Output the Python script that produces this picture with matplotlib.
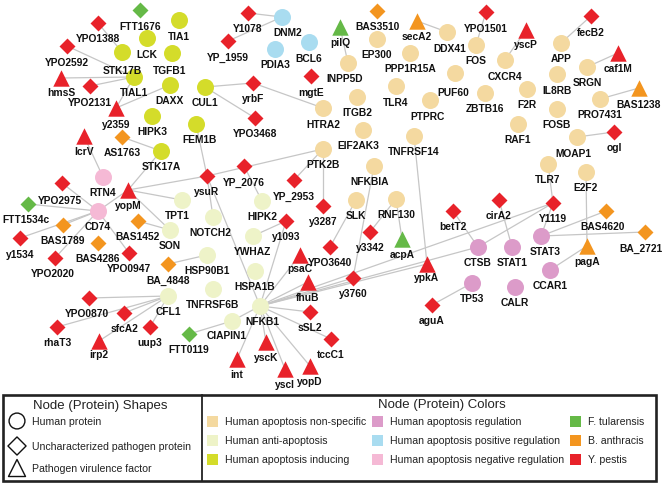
import matplotlib
matplotlib.use("Agg")
import matplotlib.pyplot as plt
from matplotlib.patches import Rectangle

# node positions (pixel layout of the network drawing), grouped by legend colour
human_nonspecific = {
    "EP300": (377, 40), "DDX41": (447, 33), "INPP5D": (348, 64), "PPP1R15A": (410, 54),
    "TLR4": (396, 87), "PTPRC": (430, 101), "ITGB2": (357, 98), "HTRA2": (323, 109),
    "EIF2AK3": (363, 131), "TNFRSF14": (414, 137), "PTK2B": (323, 150), "NFKBIA": (374, 167),
    "SLK": (356, 201), "RNF130": (396, 200), "FOS": (476, 46), "CXCR4": (505, 61),
    "PUF60": (455, 74), "ZBTB16": (485, 94), "F2R": (527, 90), "RAF1": (518, 125),
    "APP": (561, 44), "IL8RB": (557, 75), "SRGN": (587, 68), "PRO7431": (600, 100),
    "FOSB": (557, 110), "MOAP1": (577, 138), "TLR7": (548, 165), "E2F2": (586, 173),
}
human_anti = {
    "TPT1": (182, 201), "NOTCH2": (213, 218), "SON": (170, 231), "HSP90B1": (207, 256),
    "HIPK2": (262, 202), "YWHAZ": (253, 237), "HSPA1B": (255, 272), "TNFRSF6B": (213, 290),
    "CFL1": (168, 297), "NFKB1": (260, 307), "CIAPIN1": (232, 322),
}
human_inducing = {
    "TIA1": (179, 21), "LCK": (147, 39), "STK17B": (122, 53), "TGFB1": (172, 54),
    "TIAL1": (134, 78), "DAXX": (170, 86), "CUL1": (205, 88), "HIPK3": (152, 117),
    "FEM1B": (196, 125), "STK17A": (161, 152),
}
human_regulation = {
    "STAT3": (541, 237), "CTSB": (478, 248), "STAT1": (512, 248), "CCAR1": (550, 271),
    "TP53": (472, 284), "CALR": (515, 288),
}
human_positive = {"DNM2": (282, 18), "PDIA3": (275, 50), "BCL6": (309, 43)}
human_negative = {"RTN4": (103, 178), "CD74": (98, 212)}

f_tularensis = {
    "FTT1676": (140, 11), "pilQ": (340, 28), "FTT1534c": (28, 205), "FTT0119": (189, 335),
    "acpA": (402, 240),
}
b_anthracis = {
    "BAS3510": (377, 12), "secA2": (417, 22), "BAS1238": (639, 89), "AS1763": (122, 138),
    "BAS1789": (63, 226), "BAS1452": (138, 222), "BAS4286": (98, 244), "BA_4848": (168, 265),
    "BAS4620": (606, 212), "BA_2721": (645, 233), "pagA": (587, 247),
}
y_pestis = {
    "YPO1388": (98, 24), "YPO2592": (67, 47), "hmsS": (61, 79), "YPO2131": (90, 87),
    "y2359": (116, 109), "lcrV": (84, 137), "Y1078": (248, 14), "YP_1959": (228, 42),
    "yrbF": (253, 84), "mgtE": (311, 77), "YPO3468": (255, 119), "YPO1501": (486, 13),
    "yscP": (526, 31), "fecB2": (591, 17), "caf1M": (618, 54), "ogl": (614, 133),
    "ysuR": (207, 177), "yopM": (128, 191), "YP_2076": (244, 167), "YP_2953": (294, 181),
    "y3287": (323, 207), "y1093": (286, 222), "y3342": (370, 233), "YPO3640": (330, 248),
    "psaC": (300, 256), "fhuB": (308, 283), "y3760": (353, 279), "ypkA": (427, 265),
    "YPO2975": (62, 184), "y1534": (20, 239), "YPO2020": (55, 259), "YPO0947": (129, 254),
    "YPO0870": (89, 299), "sfcA2": (124, 314), "rhaT3": (57, 328), "uup3": (150, 328),
    "irp2": (99, 342), "int": (237, 360), "yscK": (266, 343), "yscI": (285, 370),
    "yopD": (310, 367), "sSL2": (310, 313), "tccC1": (331, 340), "aguA": (432, 306),
    "betT2": (453, 212), "cirA2": (499, 201), "Y1119": (553, 204),
}
virulence_factors = [
    "pilQ", "acpA", "secA2", "BAS1238", "pagA", "hmsS", "y2359", "lcrV", "yscP", "caf1M",
    "yopM", "psaC", "fhuB", "ypkA", "irp2", "int", "yscK", "yscI", "yopD",
]

edges = [
    ("YPO1388", "STK17B"), ("YPO2592", "TIAL1"), ("hmsS", "TIAL1"), ("YPO2131", "TIAL1"),
    ("y2359", "TIAL1"), ("y2359", "DAXX"), ("lcrV", "RTN4"), ("AS1763", "STK17A"),
    ("yopM", "STK17A"), ("Y1078", "DNM2"), ("YP_1959", "DNM2"), ("CUL1", "yrbF"),
    ("CUL1", "YPO3468"), ("yrbF", "HTRA2"), ("FEM1B", "ysuR"), ("ysuR", "PTK2B"),
    ("yopM", "ysuR"), ("ysuR", "NOTCH2"), ("ysuR", "NFKB1"), ("YP_2076", "HIPK2"),
    ("YP_2953", "PTK2B"), ("y3287", "PTK2B"), ("NFKBIA", "y3760"), ("SLK", "YPO3640"),
    ("RNF130", "y3342"), ("RNF130", "acpA"), ("TNFRSF14", "ypkA"), ("y1093", "YWHAZ"),
    ("y1093", "NFKB1"), ("psaC", "NFKB1"), ("fhuB", "NFKB1"), ("NFKB1", "Y1119"),
    ("NFKB1", "ypkA"), ("NFKB1", "y3760"), ("NFKB1", "CTSB"), ("NFKB1", "sSL2"),
    ("NFKB1", "tccC1"), ("NFKB1", "yopD"), ("NFKB1", "yscI"), ("NFKB1", "yscK"),
    ("NFKB1", "int"), ("NFKB1", "CIAPIN1"), ("CIAPIN1", "FTT0119"), ("CFL1", "YPO0870"),
    ("CFL1", "rhaT3"), ("CFL1", "sfcA2"), ("CFL1", "irp2"), ("CFL1", "uup3"),
    ("CD74", "YPO2975"), ("CD74", "FTT1534c"), ("CD74", "BAS1789"), ("CD74", "y1534"),
    ("CD74", "YPO2020"), ("CD74", "YPO0947"), ("CD74", "yopM"), ("yopM", "TPT1"),
    ("yopM", "SON"), ("BAS1452", "SON"), ("BA_4848", "HSP90B1"), ("YPO1501", "FOS"),
    ("yscP", "CXCR4"), ("fecB2", "APP"), ("caf1M", "SRGN"), ("BAS1238", "PRO7431"),
    ("ogl", "MOAP1"), ("pilQ", "INPP5D"), ("secA2", "DDX41"), ("TLR7", "Y1119"),
    ("E2F2", "pagA"), ("pagA", "CCAR1"), ("STAT3", "BAS4620"), ("STAT3", "BA_2721"),
    ("Y1119", "STAT3"), ("Y1119", "CTSB"), ("cirA2", "STAT1"), ("betT2", "CTSB"),
    ("aguA", "TP53"),
]

color_legend = [
    ("Human apoptosis non-specific", "#f4d9a0"), ("Human anti-apoptosis", "#eef3c8"),
    ("Human apoptosis inducing", "#d4dc2a"), ("Human apoptosis regulation", "#dc9bc9"),
    ("Human apoptosis positive regulation", "#a9dcf0"), ("Human apoptosis negative regulation", "#f5b9d5"),
    ("F. tularensis", "#65b947"), ("B. anthracis", "#f3951f"), ("Y. pestis", "#e8222a"),
]
shape_legend = ["Human protein", "Uncharacterized pathogen protein", "Pathogen virulence factor"]

# small label shifts where the label is not centred under its node
label_nudge = {
    "DNM2": (6, 0), "FEM1B": (4, 0), "EIF2AK3": (-5, 0), "TPT1": (-5, 0), "CIAPIN1": (-5, -1),
    "MOAP1": (-4, 1), "TGFB1": (-2, 2), "PUF60": (-2, 3), "STAT3": (4, 0), "BA_2721": (-4, 0),
    "NOTCH2": (-3, 0), "INPP5D": (-3, 0), "BAS4620": (-3, 0), "NFKBIA": (-4, 0), "DDX41": (3, 0),
    "STK17B": (0, 2), "PTPRC": (-2, 0), "YPO2975": (-2, 2), "FTT1534c": (-2, 0), "NFKB1": (2, 0),
    "YPO2020": (-2, 0), "YPO0870": (-2, 0), "hmsS": (0, -2), "psaC": (0, -2), "ypkA": (0, -2),
    "yscP": (0, -2), "irp2": (0, -2),
}

groups = [
    (human_nonspecific, "#f4d9a0"), (human_anti, "#eef3c8"), (human_inducing, "#d4dc2a"),
    (human_regulation, "#dc9bc9"), (human_positive, "#a9dcf0"), (human_negative, "#f5b9d5"),
    (f_tularensis, "#65b947"), (b_anthracis, "#f3951f"), (y_pestis, "#e8222a"),
]
human_groups = 6

pos = {}
for nodes, _ in groups:
    pos.update(nodes)

fig = plt.figure(figsize=(6.66, 4.85), dpi=100)
ax = fig.add_axes([0, 0, 1, 1])
ax.set_xlim(0, 666)
ax.set_ylim(485, 0)
ax.axis("off")

for a, b in edges:
    ax.plot([pos[a][0], pos[b][0]], [pos[a][1], pos[b][1]], color="#c6c6c6", lw=0.9, zorder=1)

for i, (nodes, color) in enumerate(groups):
    for name, (x, y) in nodes.items():
        if i < human_groups:
            marker, size = "o", 150
        elif name in virulence_factors:
            marker, size = "^", 140
        else:
            marker, size = "D", 66
        ax.scatter([x], [y], s=size, marker=marker, color=color, linewidths=0, zorder=2)
        dx, dy = label_nudge.get(name, (0, 0))
        ax.text(x + dx, y + 15.5 + dy, name, ha="center", va="center", fontsize=7.4,
                fontweight="bold", family="Liberation Sans", color="#111111", zorder=3)

# legend box
ax.add_patch(Rectangle((3, 396), 653, 86, fill=False, edgecolor="#222222", lw=1.9, zorder=4))
ax.plot([202, 202], [396, 482], color="#222222", lw=1.3, zorder=4)
ax.text(100, 406, "Node (Protein) Shapes", ha="center", va="center", fontsize=9.5,
        family="Liberation Sans", color="#222222")
ax.text(378, 405, "Node (Protein) Colors", ha="left", va="center", fontsize=9.5,
        family="Liberation Sans", color="#222222")

shape_markers = [("o", 130), ("D", 85), ("^", 150)]
shape_rows = [422, 447, 469]
for (marker, size), label, y in zip(shape_markers, shape_legend, shape_rows):
    ax.scatter([17], [y], s=size, marker=marker, facecolor="none", edgecolor="#111111", lw=1.0, zorder=5)
    ax.text(32, y, label, ha="left", va="center", fontsize=7.6, family="Liberation Sans", color="#222222")

col_x = [212, 377, 575]
row_y = [422, 441, 460]
for k, (label, color) in enumerate(color_legend):
    cx, cy = col_x[k // 3], row_y[k % 3]
    ax.add_patch(Rectangle((cx - 5.5, cy - 5.5), 11, 11, color=color, lw=0, zorder=5))
    ax.text(cx + 13, cy, label, ha="left", va="center", fontsize=7.6, family="Liberation Sans", color="#222222")

fig.savefig("out.png", dpi=100)
